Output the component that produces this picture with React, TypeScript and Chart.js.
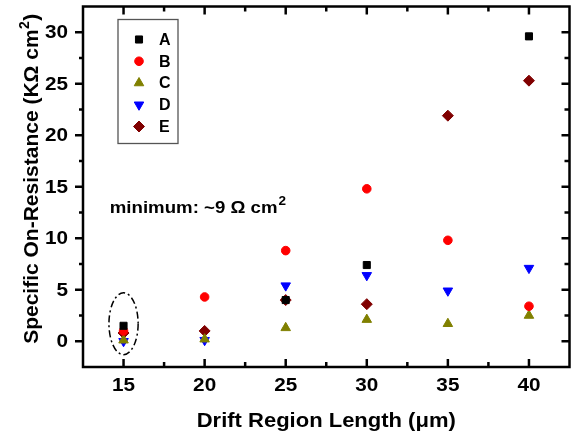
import React, { useEffect, useRef } from "react";
import { Chart, registerables } from "chart.js";
import { drawPoint } from "chart.js/helpers";

Chart.register(...registerables);

const LENGTHS = [15, 20, 25, 30, 35, 40];
const SERIES_A = [1.5, null, 4.0, 7.4, null, 29.6];
const SERIES_B = [1.0, 4.3, 8.8, 14.8, 9.8, 3.4];
const SERIES_C = [0.1, 0.2, 1.3, 2.1, 1.7, 2.5];
const SERIES_D = [0.0, 0.1, 5.4, 6.4, 4.9, 7.1];
const SERIES_E = [0.8, 1.0, 4.0, 3.6, 21.9, 25.3];
const SERIES_NAMES = ["A", "B", "C", "D", "E"];

const X_TICKS = [15, 20, 25, 30, 35, 40];
const X_MINOR = [17.5, 22.5, 27.5, 32.5, 37.5];
const Y_TICKS = [0, 5, 10, 15, 20, 25, 30];
const Y_MINOR = [2.5, 7.5, 12.5, 17.5, 22.5, 27.5];

const X_TITLE = "Drift Region Length (\u03bcm)";
const Y_TITLE_MAIN = "Specific On-Resistance (K\u03a9 cm";
const Y_TITLE_SUP = "2";
const Y_TITLE_END = ")";
const NOTE_MAIN = "minimum: ~9 \u03a9 cm";
const NOTE_SUP = "2";
const NOTE_POS = [14.15, 12.5];
const ELLIPSE = { cx: 15, cy: 1.7, rx: 0.9, ry: 3.0 };

const FONT = '"Liberation Sans", Arial, Helvetica, sans-serif';

const STYLES = [
  { color: "#000000", pointStyle: "rect", radius: 5, rotation: 0 },
  { color: "#ff0000", pointStyle: "circle", radius: 4.3, rotation: 0 },
  { color: "#808000", pointStyle: "triangle", radius: 5.5, rotation: 0 },
  { color: "#0000ff", pointStyle: "triangle", radius: 5.5, rotation: 180 },
  { color: "#800000", pointStyle: "rectRot", radius: 5.5, rotation: 0 },
];

const ALL = [SERIES_A, SERIES_B, SERIES_C, SERIES_D, SERIES_E];

function stretchText(
  ctx: CanvasRenderingContext2D,
  text: string,
  x: number,
  y: number,
  font: string,
  sx: number,
  align: CanvasTextAlign,
  baseline: CanvasTextBaseline
) {
  ctx.save();
  ctx.translate(x, y);
  ctx.scale(sx, 1);
  ctx.font = font;
  ctx.textAlign = align;
  ctx.textBaseline = baseline;
  ctx.fillText(text, 0, 0);
  ctx.restore();
}

const decorPlugin = {
  id: "decor",
  afterDraw(chart: any) {
    const { ctx, chartArea } = chart;
    const xs = chart.scales.x;
    const ys = chart.scales.y;
    const { left, right, top, bottom } = chartArea;
    ctx.save();

    // Frame
    ctx.strokeStyle = "#000";
    ctx.lineWidth = 2.5;
    ctx.lineCap = "butt";
    ctx.strokeRect(left, top, right - left, bottom - top);

    const line = (x1: number, y1: number, x2: number, y2: number) => {
      ctx.beginPath();
      ctx.moveTo(x1, y1);
      ctx.lineTo(x2, y2);
      ctx.stroke();
    };
    X_TICKS.forEach((v) => {
      const px = xs.getPixelForValue(v);
      line(px, bottom + 1, px, bottom - 8);
      line(px, top, px, top + 8);
    });
    X_MINOR.forEach((v) => {
      const px = xs.getPixelForValue(v);
      line(px, bottom, px, bottom - 5);
      line(px, top, px, top + 5);
    });
    Y_TICKS.forEach((v) => {
      const py = ys.getPixelForValue(v);
      line(left - 8, py, left, py);
      line(right, py, right - 8, py);
    });
    Y_MINOR.forEach((v) => {
      const py = ys.getPixelForValue(v);
      line(left - 4, py, left, py);
      line(right, py, right - 5, py);
    });

    // Tick labels
    ctx.fillStyle = "#000";
    const tickFont = `bold 18px ${FONT}`;
    Y_TICKS.forEach((v) => {
      stretchText(ctx, String(v), left - 15, ys.getPixelForValue(v) + 1, tickFont, 1.15, "right", "middle");
    });
    X_TICKS.forEach((v) => {
      stretchText(ctx, String(v), xs.getPixelForValue(v), bottom + 19, tickFont, 1.15, "center", "middle");
    });

    // Ellipse
    const ecx = xs.getPixelForValue(ELLIPSE.cx);
    const ecy = ys.getPixelForValue(ELLIPSE.cy);
    const erx = Math.abs(xs.getPixelForValue(ELLIPSE.cx + ELLIPSE.rx) - ecx);
    const ery = Math.abs(ys.getPixelForValue(ELLIPSE.cy + ELLIPSE.ry) - ecy);
    ctx.lineWidth = 1.5;
    ctx.setLineDash([7, 3, 2, 3]);
    ctx.beginPath();
    ctx.ellipse(ecx, ecy, erx, ery, 0, 0, Math.PI * 2);
    ctx.stroke();
    ctx.setLineDash([]);

    // Annotation
    const nx = xs.getPixelForValue(NOTE_POS[0]);
    const ny = ys.getPixelForValue(NOTE_POS[1]);
    const noteFont = `bold 16.5px ${FONT}`;
    const noteSx = 1.13;
    ctx.font = noteFont;
    const nw = ctx.measureText(NOTE_MAIN).width * noteSx;
    stretchText(ctx, NOTE_MAIN, nx, ny, noteFont, noteSx, "left", "alphabetic");
    stretchText(ctx, NOTE_SUP, nx + nw + 1, ny - 8, `bold 12px ${FONT}`, noteSx, "left", "alphabetic");

    // X title
    stretchText(ctx, X_TITLE, (left + right) / 2, 427, `bold 20px ${FONT}`, 1.1, "center", "alphabetic");

    // Y title (rotated)
    ctx.save();
    ctx.translate(38, (top + bottom) / 2 - 8);
    ctx.rotate(-Math.PI / 2);
    ctx.textAlign = "left";
    ctx.textBaseline = "alphabetic";
    const mainF = `bold 21px ${FONT}`;
    const supF = `bold 14px ${FONT}`;
    ctx.font = mainF;
    const w1 = ctx.measureText(Y_TITLE_MAIN).width;
    const w3 = ctx.measureText(Y_TITLE_END).width;
    ctx.font = supF;
    const w2 = ctx.measureText(Y_TITLE_SUP).width;
    const total = w1 + w2 + w3 + 1;
    let cx = -total / 2;
    ctx.font = mainF;
    ctx.fillText(Y_TITLE_MAIN, cx, 0);
    cx += w1 + 0.5;
    ctx.font = supF;
    ctx.fillText(Y_TITLE_SUP, cx, -9);
    cx += w2 + 0.5;
    ctx.font = mainF;
    ctx.fillText(Y_TITLE_END, cx, 0);
    ctx.restore();

    // Legend
    const bx = left + 35;
    const by = top + 13;
    const bw = 60;
    const bh = 124;
    ctx.fillStyle = "#fff";
    ctx.fillRect(bx, by, bw, bh);
    ctx.strokeStyle = "#555";
    ctx.lineWidth = 1.3;
    ctx.strokeRect(bx, by, bw, bh);
    chart.data.datasets.forEach((ds: any, i: number) => {
      const ry = by + 20 + i * 21.75;
      const st = STYLES[i];
      ctx.fillStyle = st.color;
      ctx.strokeStyle = st.color;
      ctx.lineWidth = 1;
      drawPoint(ctx, { pointStyle: st.pointStyle, radius: st.radius, rotation: st.rotation, borderWidth: 1 } as any, bx + 21, ry);
      ctx.fillStyle = "#000";
      ctx.font = `bold 16px ${FONT}`;
      ctx.textAlign = "left";
      ctx.textBaseline = "middle";
      ctx.fillText(ds.label, bx + 41, ry + 1);
    });

    ctx.restore();
  },
};

export default function App() {
  const ref = useRef<HTMLCanvasElement | null>(null);
  useEffect(() => {
    if (!ref.current) return;
    const datasets = ALL.map((arr, i) => ({
      label: SERIES_NAMES[i],
      data: LENGTHS.map((x, j) => ({ x, y: arr[j] })).filter((p) => p.y !== null),
      backgroundColor: STYLES[i].color,
      borderColor: STYLES[i].color,
      borderWidth: 1,
      pointStyle: STYLES[i].pointStyle,
      pointRadius: STYLES[i].radius,
      pointRotation: STYLES[i].rotation,
      showLine: false,
    }));
    const chart = new Chart(ref.current, {
      type: "scatter",
      data: { datasets: datasets as any },
      options: {
        animation: false,
        responsive: false,
        maintainAspectRatio: false,
        layout: { padding: { top: 6, right: 5, left: 0, bottom: 0 } },
        plugins: { legend: { display: false }, tooltip: { enabled: false } },
        scales: {
          x: {
            type: "linear",
            min: 12.5,
            max: 42.5,
            grid: { display: false, drawTicks: false, tickLength: 0 },
            border: { display: false },
            ticks: { display: false },
            afterBuildTicks: (s: any) => {
              s.ticks = X_TICKS.map((v) => ({ value: v }));
            },
            afterFit: (s: any) => {
              s.height = 71;
            },
          },
          y: {
            type: "linear",
            min: -2.5,
            max: 32.5,
            grid: { display: false, drawTicks: false, tickLength: 0 },
            border: { display: false },
            ticks: { display: false },
            afterBuildTicks: (s: any) => {
              s.ticks = Y_TICKS.map((v) => ({ value: v }));
            },
            afterFit: (s: any) => {
              s.width = 83;
            },
          },
        },
      },
      plugins: [decorPlugin],
    });
    return () => chart.destroy();
  }, []);
  return (
    <div style={{ position: "fixed", left: 0, top: 0, width: 576, height: 438, background: "#fff" }}>
      <canvas ref={ref} width={576} height={438} style={{ display: "block" }} />
    </div>
  );
}
